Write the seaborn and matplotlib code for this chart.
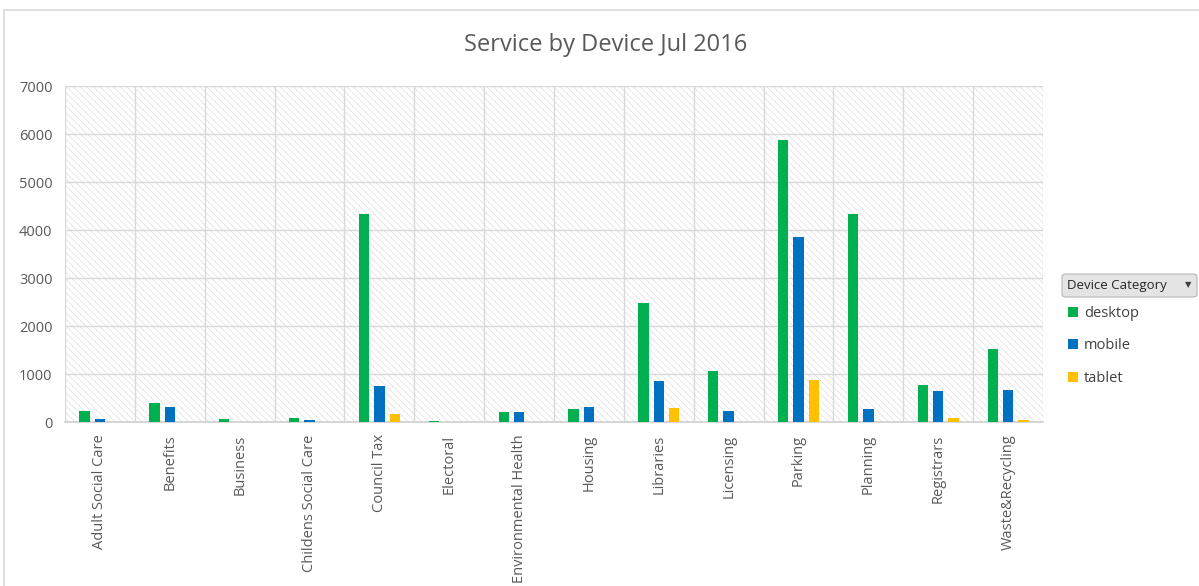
import matplotlib
matplotlib.use("Agg")
import matplotlib.pyplot as plt
import seaborn as sns
import pandas as pd
from matplotlib.patches import Rectangle, FancyBboxPatch

categories = ["Adult Social Care", "Benefits", "Business", "Childens Social Care",
              "Council Tax", "Electoral", "Environmental Health", "Housing",
              "Libraries", "Licensing", "Parking", "Planning", "Registrars",
              "Waste&Recycling"]
devices = ["desktop", "mobile", "tablet"]
desktop = [235, 390, 60, 80, 4330, 25, 200, 270, 2470, 1060, 5875, 4330, 775, 1530]
mobile = [60, 310, 0, 40, 760, 0, 200, 310, 850, 220, 3850, 270, 640, 670]
tablet = [0, 0, 0, 0, 165, 0, 0, 0, 295, 0, 870, 0, 85, 40]
yticks = [0, 1000, 2000, 3000, 4000, 5000, 6000, 7000]
colors = ["#00B050", "#0070C0", "#FFC000"]
title = "Service by Device Jul 2016"
legend_title = "Device Category"

rows = []
for i, c in enumerate(categories):
    for d, vals in zip(devices, [desktop, mobile, tablet]):
        rows.append({"Service": c, "Device": d, "Sessions": vals[i]})
df = pd.DataFrame(rows)

sns.set_theme(style="white")
plt.rcParams['font.family'] = ['Open Sans', 'DejaVu Sans']
plt.rcParams['hatch.color'] = '#dadada'
plt.rcParams['hatch.linewidth'] = 0.45

W, H = 1199, 586
fig = plt.figure(figsize=(W / 100, H / 100), dpi=100)

# chart outer border
fig.add_artist(Rectangle((4 / W, -0.05), 1.2, 1 - 10 / H + 0.05, transform=fig.transFigure,
                         facecolor='none', edgecolor='#d9d9d9', lw=1.2))

ax = fig.add_axes([65 / W, 1 - 422 / H, (1043 - 65) / W, (422 - 86) / H])
ax.set_facecolor('white')
ax.add_patch(Rectangle((0, 0), 1, 1, transform=ax.transAxes, facecolor='white',
                       edgecolor='#dadada', hatch='\\\\\\\\\\',
                       lw=0, zorder=0))

sns.barplot(data=df, x="Service", y="Sessions", hue="Device", order=categories,
            hue_order=devices, palette=colors, width=0.66, gap=0.33, ax=ax,
            saturation=1, legend=False, zorder=3, linewidth=0)

ax.set_xlim(-0.5, len(categories) - 0.5)
ax.set_ylim(0, 7000)
ax.set_yticks(yticks)
ax.set_yticklabels([str(t) for t in yticks])
ax.set_xticks(range(len(categories)))
ax.set_xticklabels(categories, rotation=90, va='top', ha='center')
ax.set_xticks([k + 0.5 for k in range(-1, len(categories))], minor=True)
ax.grid(False)
ax.grid(True, axis='y', which='major', color='#d9d9d9', lw=1, zorder=1)
ax.grid(True, axis='x', which='minor', color='#d9d9d9', lw=1, zorder=1)
ax.set_axisbelow(True)
ax.tick_params(axis='both', which='both', length=0, colors='#595959', labelsize=10.5)
ax.tick_params(axis='y', pad=9)
ax.tick_params(axis='x', pad=9)
ax.set_xlabel("")
ax.set_ylabel("")
for s in ['top', 'right', 'left']:
    ax.spines[s].set_visible(False)
ax.spines['bottom'].set_color('#d0d0d0')
ax.spines['bottom'].set_linewidth(1.2)

fig.text(0.505, 1 - 45 / H, title, ha='center', va='center', fontsize=17,
         color='#595959')

# legend header box
fig.add_artist(FancyBboxPatch((1062 / W, 1 - 297 / H), 135 / W, 23 / H,
                              boxstyle="round,pad=0,rounding_size=0.004",
                              transform=fig.transFigure, facecolor='#e4e4e4',
                              edgecolor='#b8b8b8', lw=0.8))
fig.text(1067 / W, 1 - 285 / H, legend_title, ha='left', va='center', fontsize=9.5,
         color='#262626')
fig.text(1188 / W, 1 - 285 / H, "\u25BC", ha='center', va='center', fontsize=6,
         color='#404040', family=['DejaVu Sans'])

handles = [Rectangle((0, 0), 1, 1, facecolor=c, edgecolor='none') for c in colors]
fig.legend(handles, devices, loc='upper left', bbox_to_anchor=(1062 / W, 1 - 300 / H),
           frameon=False, handlelength=0.7, handleheight=0.7, handletextpad=0.4,
           labelspacing=1.2, fontsize=10.5, labelcolor='#404040', borderaxespad=0)

fig.savefig("out.png", dpi=100)
